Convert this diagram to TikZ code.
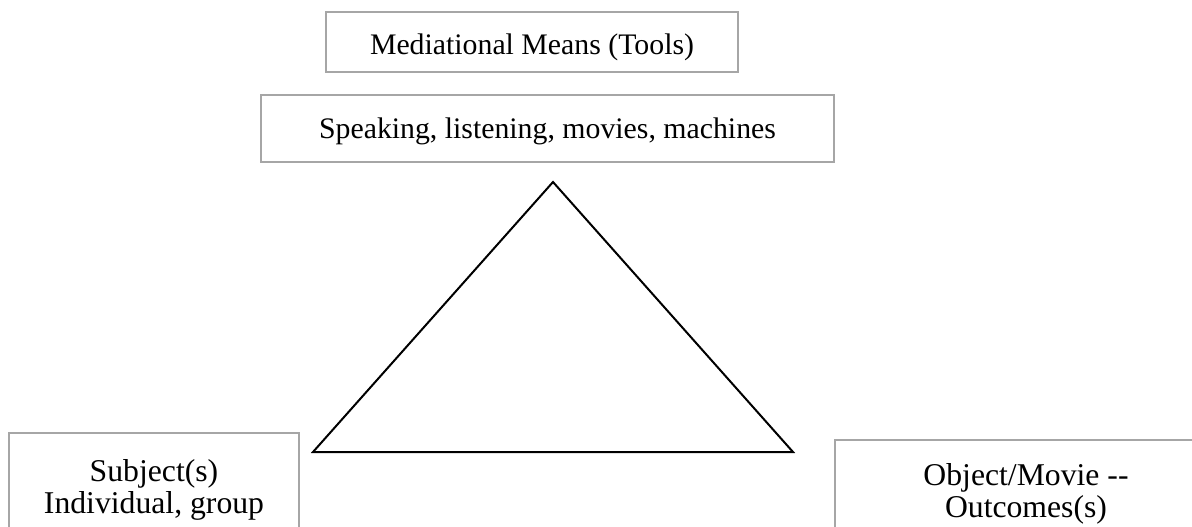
\documentclass[tikz,border=0pt]{standalone}
\usepackage{fontspec}
\setmainfont{Liberation Serif}
\definecolor{boxgray}{HTML}{A6A6A6}
\tikzset{
  boxnode/.style={draw=boxgray, line width=2pt, inner xsep=0pt, align=center},
  topfont/.style={font=\fontsize{29.8}{33}\selectfont},
  botfont/.style={font=\fontsize{31.7}{32.5}\selectfont},
  triline/.style={draw=black, line width=2pt, line join=miter}
}
\begin{document}
\begin{tikzpicture}[x=1pt,y=-1pt]
\useasboundingbox (0,0) rectangle (1192,527);
\clip (0,0) rectangle (1192,527);
\node[boxnode, topfont, minimum width=412, minimum height=60, text height=28, text depth=2]
  (means) at (532,42) {Mediational Means (Tools)};
\node[boxnode, topfont, minimum width=573, minimum height=66, text height=24, text depth=4]
  (tools) at (547.5,128.5) {Speaking, listening, movies, machines};
\node[boxnode, botfont, minimum width=290, inner ysep=26.3pt, anchor=north west]
  (subject) at (8,432) {Subject(s)\\Individual, group};
\node[boxnode, botfont, minimum width=382, inner ysep=23.3pt, anchor=north west]
  (object) at (834,439) {Object/Movie -{}-\\Outcomes(s)};
\coordinate (apex) at (553,182);
\coordinate (bl) at (313,452);
\coordinate (br) at (793,452);
\draw[triline] (apex) -- (bl) -- (br) -- cycle;
\end{tikzpicture}
\end{document}
